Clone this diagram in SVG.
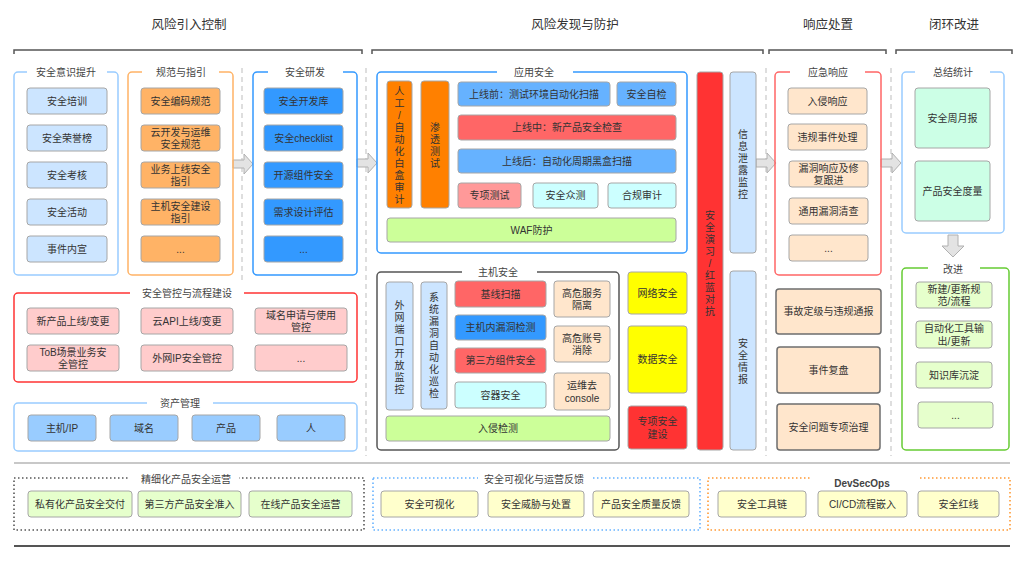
<svg xmlns="http://www.w3.org/2000/svg" width="1024" height="561" viewBox="0 0 1024 561">
<style>
text{font-family:"Liberation Sans","Noto Sans CJK SC",sans-serif;font-size:10px;fill:#333;text-anchor:middle;dominant-baseline:central}
.h{font-size:12.5px;fill:#333}
.gl{font-size:10px;fill:#444}
.b{stroke:#a6a6a6;stroke-width:1}
.bd{stroke:#6e6e6e;stroke-width:1.5}
.g{fill:none;stroke-width:1.5}
.bg{fill:#fff;stroke:none}
.dot{fill:none;stroke-width:1.6;stroke-dasharray:1.5 2.5}
.sep{stroke:#bdbdbd;stroke-width:1;stroke-dasharray:5 4;fill:none}
.arr{fill:#e3e3e3;stroke:#b0b0b0;stroke-width:1}
.hl{fill:none;stroke:#555;stroke-width:1.5}
</style>
<rect width="1024" height="561" fill="#fff"/>

<g id="headers">
<text class="h" x="189" y="25">风险引入控制</text>
<text class="h" x="575" y="25">风险发现与防护</text>
<text class="h" x="828" y="25">响应处置</text>
<text class="h" x="954" y="25">闭环改进</text>
<path class="hl" d="M14 54V50H362V54"/>
<path class="hl" d="M372 54V50H763V54"/>
<path class="hl" d="M769 54V50H886V54"/>
<path class="hl" d="M896 54V50H1012V54"/>
</g>

<g id="separators">
<path class="sep" d="M242 68V282"/>
<path class="sep" d="M366 68V456"/>
<path class="sep" d="M766 68V456"/>
<path class="sep" d="M891 68V456"/>
</g>

<g id="connectors">
<polygon class="arr" points="233,160 244,160 244,154 253,164 244,174 244,168 233,168"/>
<polygon class="arr" points="357,159 368,159 368,153 377,163 368,173 368,167 357,167"/>
<polygon class="arr" points="756,159 767,159 767,153 776,163 767,173 767,167 756,167"/>
<polygon class="arr" points="881,159 892,159 892,153 901,163 892,173 892,167 881,167"/>
<polygon class="arr" points="948,235 958,235 958,246 964,246 953,257 942,246 948,246"/>
</g>

<g id="awareness">
<rect class="g" x="14" y="72" width="104" height="203" rx="4" stroke="#99ccff"/>
<rect class="bg" x="27" y="66" width="80" height="12"/>
<text class="gl" x="66" y="72">安全意识提升</text>
<rect class="b" x="27" y="88" width="80" height="26" rx="3" fill="#cce5ff"/><text x="67" y="101">安全培训</text>
<rect class="b" x="27" y="125" width="80" height="26" rx="3" fill="#cce5ff"/><text x="67" y="138">安全荣誉榜</text>
<rect class="b" x="27" y="162" width="80" height="26" rx="3" fill="#cce5ff"/><text x="67" y="175">安全考核</text>
<rect class="b" x="27" y="199" width="80" height="26" rx="3" fill="#cce5ff"/><text x="67" y="212">安全活动</text>
<rect class="b" x="27" y="236" width="80" height="26" rx="3" fill="#cce5ff"/><text x="67" y="249">事件内宣</text>
</g>

<g id="norms">
<rect class="g" x="128" y="72" width="105" height="203" rx="4" stroke="#ffb366"/>
<rect class="bg" x="142" y="66" width="77" height="12"/>
<text class="gl" x="181" y="72">规范与指引</text>
<rect class="b" x="141" y="88" width="79" height="26" rx="3" fill="#ffb366"/><text x="180.5" y="101">安全编码规范</text>
<rect class="b" x="141" y="125" width="79" height="26" rx="3" fill="#ffb366"/><text x="180.5" y="132">云开发与运维<tspan x="180.5" dy="12">安全规范</tspan></text>
<rect class="b" x="141" y="162" width="79" height="26" rx="3" fill="#ffb366"/><text x="180.5" y="169">业务上线安全<tspan x="180.5" dy="12">指引</tspan></text>
<rect class="b" x="141" y="199" width="79" height="26" rx="3" fill="#ffb366"/><text x="180.5" y="206">主机安全建设<tspan x="180.5" dy="12">指引</tspan></text>
<rect class="b" x="141" y="236" width="79" height="26" rx="3" fill="#ffb366"/><text x="180.5" y="249">...</text>
</g>

<g id="secdev">
<rect class="g" x="253" y="72" width="104" height="203" rx="4" stroke="#3399ff"/>
<rect class="bg" x="268" y="66" width="75" height="12"/>
<text class="gl" x="305" y="72">安全研发</text>
<rect class="b" x="264" y="88" width="79" height="26" rx="3" fill="#3399ff"/><text x="303.5" y="101">安全开发库</text>
<rect class="b" x="264" y="125" width="79" height="26" rx="3" fill="#3399ff"/><text x="303.5" y="138">安全checklist</text>
<rect class="b" x="264" y="162" width="79" height="26" rx="3" fill="#3399ff"/><text x="303.5" y="175">开源组件安全</text>
<rect class="b" x="264" y="199" width="79" height="26" rx="3" fill="#3399ff"/><text x="303.5" y="212">需求设计评估</text>
<rect class="b" x="264" y="236" width="79" height="26" rx="3" fill="#3399ff"/><text x="303.5" y="249">...</text>
</g>

<g id="process">
<rect class="g" x="14" y="293" width="343" height="89" rx="4" stroke="#ff3333"/>
<rect class="bg" x="130" y="287" width="114" height="12"/>
<text class="gl" x="187" y="293">安全管控与流程建设</text>
<rect class="b" x="27" y="308" width="92" height="26" rx="3" fill="#ffcccc"/><text x="73" y="321">新产品上线/变更</text>
<rect class="b" x="141" y="308" width="92" height="26" rx="3" fill="#ffcccc"/><text x="187" y="321">云API上线/变更</text>
<rect class="b" x="255" y="308" width="92" height="26" rx="3" fill="#ffcccc"/><text x="301" y="315">域名申请与使用<tspan x="301" dy="12">管控</tspan></text>
<rect class="b" x="27" y="345" width="92" height="26" rx="3" fill="#ffcccc"/><text x="73" y="352">ToB场景业务安<tspan x="73" dy="12">全管控</tspan></text>
<rect class="b" x="141" y="345" width="92" height="26" rx="3" fill="#ffcccc"/><text x="187" y="358">外网IP安全管控</text>
<rect class="b" x="255" y="345" width="92" height="26" rx="3" fill="#ffcccc"/><text x="301" y="358">...</text>
</g>

<g id="assets">
<rect class="g" x="14" y="403" width="343" height="48" rx="4" stroke="#99ccff"/>
<rect class="bg" x="147" y="397" width="66" height="12"/>
<text class="gl" x="180" y="403">资产管理</text>
<rect class="b" x="28" y="415" width="68" height="26" rx="3" fill="#99ccff"/><text x="62" y="428">主机/IP</text>
<rect class="b" x="110" y="415" width="68" height="26" rx="3" fill="#99ccff"/><text x="144" y="428">域名</text>
<rect class="b" x="192" y="415" width="68" height="26" rx="3" fill="#99ccff"/><text x="226" y="428">产品</text>
<rect class="b" x="277" y="415" width="68" height="26" rx="3" fill="#99ccff"/><text x="311" y="428">人</text>
</g>

<g id="appsec">
<rect class="g" x="377" y="72" width="310" height="181" rx="4" stroke="#3399ff"/>
<rect class="bg" x="497" y="66" width="76" height="12"/>
<text class="gl" x="534" y="72">应用安全</text>
<rect class="b" x="387" y="81" width="25" height="127" rx="3" fill="#ff8000"/>
<text><tspan x="399.5" y="91">人</tspan><tspan x="399.5" dy="12">工</tspan><tspan x="399.5" dy="12">/</tspan><tspan x="399.5" dy="12">自</tspan><tspan x="399.5" dy="12">动</tspan><tspan x="399.5" dy="12">化</tspan><tspan x="399.5" dy="12">白</tspan><tspan x="399.5" dy="12">盒</tspan><tspan x="399.5" dy="12">审</tspan><tspan x="399.5" dy="12">计</tspan></text>
<rect class="b" x="421" y="81" width="28" height="127" rx="3" fill="#ff8000"/>
<text><tspan x="435" y="127">渗</tspan><tspan x="435" dy="12">透</tspan><tspan x="435" dy="12">测</tspan><tspan x="435" dy="12">试</tspan></text>
<rect class="b" x="458" y="82" width="152" height="24" rx="3" fill="#66b2ff"/><text x="534" y="94">上线前：测试环境自动化扫描</text>
<rect class="b" x="617" y="82" width="59" height="24" rx="3" fill="#66b2ff"/><text x="646.5" y="94">安全自检</text>
<rect class="b" x="458" y="115" width="218" height="25" rx="3" fill="#ff6666"/><text x="567" y="127.5">上线中：新产品安全检查</text>
<rect class="b" x="458" y="149" width="218" height="24" rx="3" fill="#66b2ff"/><text x="567" y="161">上线后：自动化周期黑盒扫描</text>
<rect class="b" x="458" y="183" width="63" height="25" rx="3" fill="#ff9999"/><text x="489.5" y="195.5">专项测试</text>
<rect class="b" x="533" y="183" width="65" height="25" rx="3" fill="#ccffff"/><text x="565.5" y="195.5">安全众测</text>
<rect class="b" x="608" y="183" width="68" height="25" rx="3" fill="#ccffff"/><text x="642" y="195.5">合规审计</text>
<rect class="b" x="387" y="218" width="289" height="24" rx="3" fill="#ccff99"/><text x="531.5" y="230">WAF防护</text>
</g>

<g id="hostsec">
<rect class="g" x="377" y="272" width="242" height="178" rx="4" stroke="#555"/>
<rect class="bg" x="462" y="266" width="75" height="12"/>
<text class="gl" x="498" y="272">主机安全</text>
<rect class="b" x="386" y="282" width="27" height="128" rx="3" fill="#cce5ff"/>
<text><tspan x="399.5" y="305">外</tspan><tspan x="399.5" dy="12">网</tspan><tspan x="399.5" dy="12">端</tspan><tspan x="399.5" dy="12">口</tspan><tspan x="399.5" dy="12">开</tspan><tspan x="399.5" dy="12">放</tspan><tspan x="399.5" dy="12">监</tspan><tspan x="399.5" dy="12">控</tspan></text>
<rect class="b" x="421" y="282" width="26" height="127" rx="3" fill="#cce5ff"/>
<text><tspan x="434" y="297">系</tspan><tspan x="434" dy="12">统</tspan><tspan x="434" dy="12">漏</tspan><tspan x="434" dy="12">洞</tspan><tspan x="434" dy="12">自</tspan><tspan x="434" dy="12">动</tspan><tspan x="434" dy="12">化</tspan><tspan x="434" dy="12">巡</tspan><tspan x="434" dy="12">检</tspan></text>
<rect class="b" x="455" y="281" width="91" height="26" rx="3" fill="#ff6666"/><text x="500.5" y="294">基线扫描</text>
<rect class="b" x="455" y="315" width="91" height="25" rx="3" fill="#3399ff"/><text x="500.5" y="327.5">主机内漏洞检测</text>
<rect class="b" x="455" y="348" width="91" height="25" rx="3" fill="#ff6666"/><text x="500.5" y="360.5">第三方组件安全</text>
<rect class="b" x="455" y="382" width="91" height="26" rx="3" fill="#ccffff"/><text x="500.5" y="395">容器安全</text>
<rect class="b" x="554" y="281" width="56" height="36" rx="3" fill="#ffe6cc"/><text x="582" y="293">高危服务<tspan x="582" dy="12">隔离</tspan></text>
<rect class="b" x="554" y="326" width="56" height="36" rx="3" fill="#ffe6cc"/><text x="582" y="338">高危账号<tspan x="582" dy="12">消除</tspan></text>
<rect class="b" x="554" y="373" width="56" height="37" rx="3" fill="#ffe6cc"/><text x="582" y="385.5">运维去<tspan x="582" dy="12">console</tspan></text>
<rect class="b" x="386" y="416" width="224" height="25" rx="3" fill="#ccff99"/><text x="498" y="428.5">入侵检测</text>
</g>

<g id="netsec">
<rect class="b" x="628" y="272" width="59" height="42" rx="3" fill="#ffff00"/><text x="657.5" y="293">网络安全</text>
</g>
<g id="datasec">
<rect class="b" x="628" y="326" width="59" height="67" rx="3" fill="#ffff00"/><text x="657.5" y="359.5">数据安全</text>
</g>
<g id="special">
<rect class="b" x="628" y="406" width="59" height="43" rx="3" fill="#ff3333"/><text x="657.5" y="421.5">专项安全<tspan x="657.5" dy="12">建设</tspan></text>
</g>

<g id="redblue">
<rect class="b" x="697" y="72" width="26" height="378" rx="3" fill="#ff3333"/>
<text><tspan x="710" y="215">安</tspan><tspan x="710" dy="12">全</tspan><tspan x="710" dy="12">演</tspan><tspan x="710" dy="12">习</tspan><tspan x="710" dy="12">/</tspan><tspan x="710" dy="12">红</tspan><tspan x="710" dy="12">蓝</tspan><tspan x="710" dy="12">对</tspan><tspan x="710" dy="12">抗</tspan></text>
</g>
<g id="leak">
<rect class="b" x="730" y="72" width="26" height="181" rx="3" fill="#cce5ff"/>
<text><tspan x="743" y="134">信</tspan><tspan x="743" dy="12">息</tspan><tspan x="743" dy="12">泄</tspan><tspan x="743" dy="12">露</tspan><tspan x="743" dy="12">监</tspan><tspan x="743" dy="12">控</tspan></text>
</g>
<g id="intel">
<rect class="b" x="730" y="271" width="26" height="179" rx="3" fill="#cce5ff"/>
<text><tspan x="743" y="343">安</tspan><tspan x="743" dy="12">全</tspan><tspan x="743" dy="12">情</tspan><tspan x="743" dy="12">报</tspan></text>
</g>

<g id="emergency">
<rect class="g" x="775" y="72" width="106" height="203" rx="4" stroke="#ff6666"/>
<rect class="bg" x="790" y="66" width="75" height="12"/>
<text class="gl" x="828" y="72">应急响应</text>
<rect class="b" x="788" y="88" width="79" height="26" rx="3" fill="#ffe6cc"/><text x="827.5" y="101">入侵响应</text>
<rect class="b" x="788" y="124" width="79" height="26" rx="3" fill="#ffe6cc"/><text x="827.5" y="137">违规事件处理</text>
<rect class="b" x="789" y="161" width="79" height="26" rx="3" fill="#ffe6cc"/><text x="828.5" y="168">漏洞响应及修<tspan x="828.5" dy="12">复跟进</tspan></text>
<rect class="b" x="789" y="198" width="79" height="26" rx="3" fill="#ffe6cc"/><text x="828.5" y="211">通用漏洞清查</text>
<rect class="b" x="789" y="235" width="79" height="26" rx="3" fill="#ffe6cc"/><text x="828.5" y="248">...</text>
</g>
<g id="grading">
<rect class="bd" x="776" y="289" width="105" height="45" rx="3" fill="#ffe6cc"/><text x="828.5" y="311.5">事故定级与违规通报</text>
</g>
<g id="review">
<rect class="bd" x="777" y="347" width="103" height="46" rx="3" fill="#ffe6cc"/><text x="828.5" y="370">事件复盘</text>
</g>
<g id="governance">
<rect class="bd" x="777" y="404" width="103" height="46" rx="3" fill="#ffe6cc"/><text x="828.5" y="427">安全问题专项治理</text>
</g>

<g id="summary">
<rect class="g" x="902" y="72" width="102" height="161" rx="4" stroke="#99ccff"/>
<rect class="bg" x="915" y="66" width="75" height="12"/>
<text class="gl" x="953" y="72">总结统计</text>
<rect class="b" x="915" y="88" width="75" height="60" rx="3" fill="#ccffe6"/><text x="952.5" y="118">安全周月报</text>
<rect class="b" x="915" y="161" width="75" height="60" rx="3" fill="#ccffe6"/><text x="952.5" y="191">产品安全度量</text>
</g>

<g id="improve">
<rect class="g" x="902" y="268" width="107" height="182" rx="4" stroke="#66cc33"/>
<rect class="bg" x="928" y="262" width="52" height="12"/>
<text class="gl" x="953" y="269">改进</text>
<rect class="b" x="916" y="282" width="76" height="26" rx="3" fill="#e6ffcc"/><text x="954" y="289">新建/更新规<tspan x="954" dy="12">范/流程</tspan></text>
<rect class="b" x="916" y="321" width="76" height="27" rx="3" fill="#e6ffcc"/><text x="954" y="328.5">自动化工具输<tspan x="954" dy="12">出/更新</tspan></text>
<rect class="b" x="916" y="362" width="76" height="26" rx="3" fill="#e6ffcc"/><text x="954" y="375">知识库沉淀</text>
<rect class="b" x="918" y="402" width="75" height="26" rx="3" fill="#e6ffcc"/><text x="955.5" y="415">...</text>
</g>

<g id="bottomlines">
<path d="M14 463H1010" stroke="#c8c8c8" stroke-width="2"/>
<path d="M14 546H1010" stroke="#555" stroke-width="2"/>
</g>

<g id="operation">
<rect class="dot" x="14" y="478" width="350" height="52" stroke="#555"/>
<rect class="bg" x="128" y="472" width="111" height="12"/>
<text class="gl" x="186" y="479">精细化产品安全运营</text>
<rect class="b" x="28" y="491" width="104" height="26" rx="3" fill="#e6ffcc"/><text x="80" y="504">私有化产品安全交付</text>
<rect class="b" x="138" y="491" width="103" height="26" rx="3" fill="#e6ffcc"/><text x="189.5" y="504">第三方产品安全准入</text>
<rect class="b" x="249" y="491" width="103" height="26" rx="3" fill="#e6ffcc"/><text x="300.5" y="504">在线产品安全运营</text>
</g>

<g id="visual">
<rect class="dot" x="373" y="478" width="327" height="52" stroke="#66b2ff"/>
<rect class="bg" x="478" y="472" width="113" height="12"/>
<text class="gl" x="534" y="479">安全可视化与运营反馈</text>
<rect class="b" x="381" y="491" width="97" height="26" rx="3" fill="#ffffcc"/><text x="429.5" y="504">安全可视化</text>
<rect class="b" x="488" y="491" width="96" height="26" rx="3" fill="#ffffcc"/><text x="536" y="504">安全威胁与处置</text>
<rect class="b" x="593" y="491" width="96" height="26" rx="3" fill="#ffffcc"/><text x="641" y="504">产品安全质量反馈</text>
</g>

<g id="devsecops">
<rect class="dot" x="708" y="478" width="302" height="52" stroke="#ff9933"/>
<rect class="bg" x="810" y="472" width="108" height="12"/>
<text class="gl" x="862" y="483" font-weight="bold">DevSecOps</text>
<rect class="b" x="718" y="491" width="88" height="26" rx="3" fill="#ffffcc"/><text x="762" y="504">安全工具链</text>
<rect class="b" x="818" y="491" width="89" height="26" rx="3" fill="#ffffcc"/><text x="862.5" y="504">CI/CD流程嵌入</text>
<rect class="b" x="918" y="491" width="81" height="26" rx="3" fill="#ffffcc"/><text x="958.5" y="504">安全红线</text>
</g>
</svg>
